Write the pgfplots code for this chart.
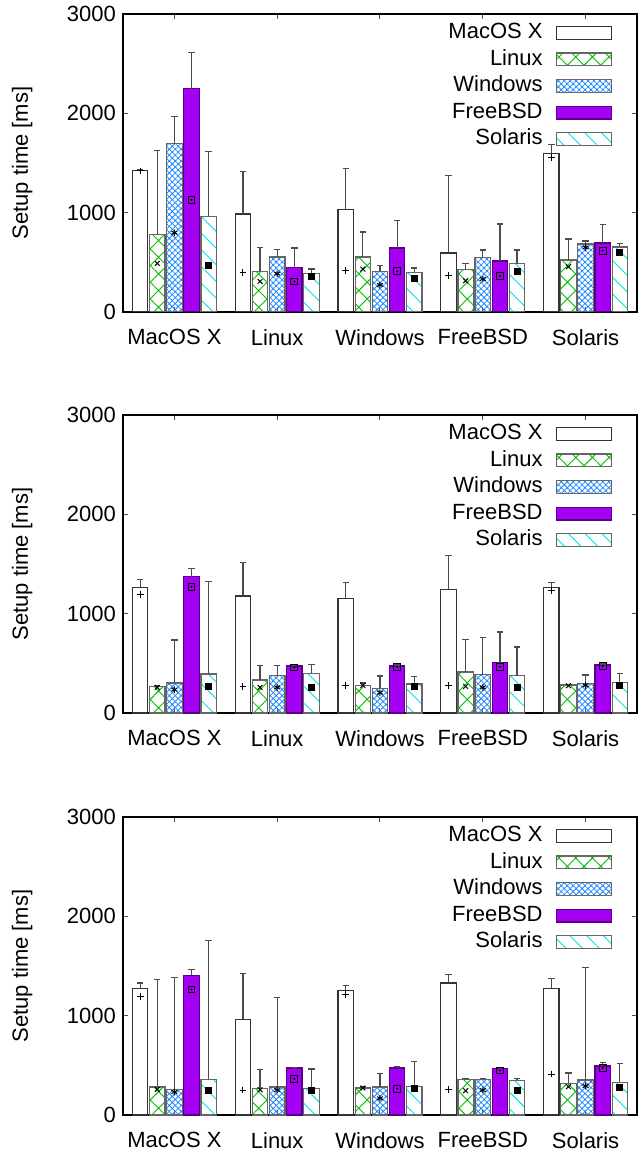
\documentclass[border=0pt]{standalone}
\usepackage{fontspec}
\setmainfont{Liberation Sans}
\usepackage{pgfplots}
\usepackage{pgfplotstable}
\pgfplotsset{compat=1.18}
\usetikzlibrary{patterns.meta}

\definecolor{linG}{HTML}{00C000}
\definecolor{winB}{HTML}{1E88FF}
\definecolor{bsdP}{HTML}{A400F4}
\definecolor{bsdD}{HTML}{5A0088}
\definecolor{solC}{HTML}{00E0E8}

% columns: <os>v = bar value, <os>t = top of error bar, <os>m = marker
\pgfplotstableread{
x mv mt mm lv lt lm wv wt wm fv ft fm sv st sm
0 1425 1430 1420 778 1629 489 1696 1971 798 2249 2615 1130 962 1616 469
1 986 1418 399 409 647 308 553 630 386 446 644 308 389 432 355
2 1029 1448 416 553 805 432 409 466 272 644 918 409 396 443 335
3 593 1378 365 426 489 315 546 624 332 513 885 362 486 624 406
4 1599 1686 1552 523 734 456 684 714 650 694 878 617 654 691 597
}\dataA
\pgfplotstableread{
x mv mt mm lv lt lm wv wt wm fv ft fm sv st sm
0 1267 1348 1190 265 278 258 302 734 235 1374 1455 1270 392 1324 265
1 1177 1512 265 332 476 258 375 479 258 473 483 459 399 489 261
2 1153 1317 278 278 302 278 248 372 204 473 483 466 292 369 268
3 1244 1586 275 412 738 268 386 761 258 506 815 466 375 664 258
4 1267 1314 1230 282 288 275 298 382 278 483 493 473 305 399 272
}\dataB
\pgfplotstableread{
x mv mt mm lv lt lm wv wt wm fv ft fm sv st sm
0 1271 1328 1193 282 1364 258 258 1385 231 1408 1462 1264 359 1757 248
1 962 1421 251 265 459 255 282 1187 251 473 476 365 268 463 248
2 1257 1301 1214 272 282 272 282 416 168 473 486 265 285 540 265
3 1328 1415 255 359 365 245 359 365 251 466 479 449 349 369 245
4 1274 1374 412 318 422 285 352 1485 292 493 526 473 329 520 275
}\dataC

\pgfplotsset{
  osleg/.style={legend image code/.code={%
    \draw[##1] (0pt,-3.2pt) rectangle (27.5pt,3.2pt);}},
  panel/.style={
    scale only axis, width=257pt, height=149pt,
    anchor=north west,
    xmin=-0.5, xmax=4.5, ymin=0, ymax=3000,
    xtick={0,...,4},
    xticklabels={MacOS X,Linux,Windows,FreeBSD,Solaris},
    xticklabel style={yshift=-5pt},
    ytick={0,1000,2000,3000},
    scaled y ticks=false,
    /pgf/number format/set thousands separator={},
    /pgf/number format/assume math mode=true,
    tick align=inside, major tick length=2.5pt,
    tick style={black!70, line width=0.5pt},
    axis line style={line width=0.6pt},
    ylabel={Setup time [ms]},
    every axis y label/.style={at={(axis description cs:-0.196,0.5)},
      rotate=90, anchor=center},
    legend plot pos=right,
    legend cell align=right,
    legend style={draw=none, fill=none, inner sep=0pt, outer sep=0pt,
      at={(axis description cs:0.951,0.975)}, anchor=north east,
      row sep=2pt,
      nodes={inner sep=0.5pt, text height=8pt, text depth=2.3pt},
      /tikz/every odd column/.style={column sep=6pt}},
  },
  errs/.style={forget plot, draw=none, mark=none,
    error bars/.cd, y dir=plus, y explicit,
    error bar style={draw=black!70, line width=0.6pt},
    error mark options={draw=black!70, line width=0.6pt, mark size=1.6pt, rotate=90}},
}

% one OS series: table, column prefix, shift, bar style, mark style, legend
\newcommand\osplot[6]{%
  \addplot[ybar, bar width=0.15, bar shift=#3, line width=0.6pt, #4, osleg]
    table[x=x, y=#2v] {#1};
  \addlegendentry{#6}
  \addplot[errs]
    table[x expr=\thisrow{x}+#3, y=#2v, y error expr=\thisrow{#2t}-\thisrow{#2v}] {#1};
  \addplot[only marks, mark options={black, solid, line width=0.5pt}, #5, forget plot]
    table[x expr=\thisrow{x}+#3, y=#2m] {#1};
}

\newcommand\panel[2]{%
  \begin{axis}[panel, at={(0,#2)}]
    \osplot{#1}{m}{-0.3333}{draw=black!80, fill=white}{mark=+, mark size=1.7pt}{MacOS X}
    \osplot{#1}{l}{-0.1667}{draw=black!60,
      pattern={Hatch[angle=45,distance=5.9pt,line width=0.45pt]}, pattern color=linG}
      {mark=x, mark size=1.7pt}{Linux}
    \osplot{#1}{w}{0}{draw=black!60,
      pattern={Hatch[angle=45,distance=2.1pt,line width=0.4pt]}, pattern color=winB}
      {mark=asterisk, mark size=1.7pt}{Windows}
    \osplot{#1}{f}{0.1667}{draw=bsdD, fill=bsdP}{mark=square, mark size=1.7pt}{FreeBSD}
    \addplot[only marks, mark=*, mark size=0.3pt, black, forget plot]
      table[x expr=\thisrow{x}+0.1667, y=fm] {#1};
    \osplot{#1}{s}{0.3333}{draw=black!60,
      pattern={Lines[angle=-45,distance=5.9pt,line width=0.45pt]}, pattern color=solC}
      {mark=square*, mark size=1.5pt}{Solaris}
  \end{axis}%
}

\begin{document}
\begin{tikzpicture}[font=\fontsize{11pt}{13pt}\selectfont]
  \useasboundingbox (-61.5pt,7pt) rectangle (259.5pt,-568pt);
  \panel{\dataA}{0pt}
  \panel{\dataB}{-200.5pt}
  \panel{\dataC}{-401.5pt}
\end{tikzpicture}
\end{document}
